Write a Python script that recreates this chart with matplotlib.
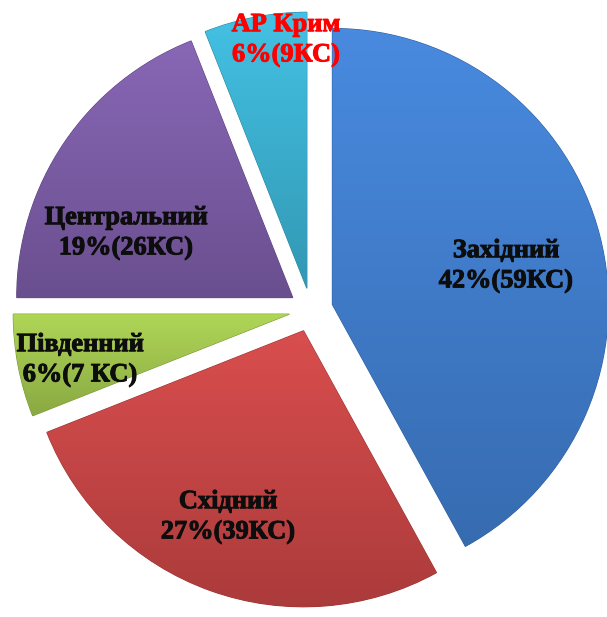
import numpy as np
import matplotlib
matplotlib.use('Agg')
from matplotlib import pyplot as plt
from matplotlib.colors import to_rgb
import matplotlib.patheffects as pe

regions = ['Західний', 'Східний', 'Південний', 'Центральний', 'АР Крим']
shares = [42, 27, 6, 19, 6]
counts = ['59КС', '39КС', '7 КС', '26КС', '9КС']
colors = ['#4180d2', '#cc4646', '#a4c94f', '#7e5eaa', '#3cb5d6']
text_colors = ['#0d0d0d', '#0d0d0d', '#0d0d0d', '#0d0d0d', '#ff0000']

# label centres (pixels, y measured from the top)
label_pos = [(506, 266), (228, 517), (80, 360), (126, 233), (286, 40)]

W, H = 607, 617
fig = plt.figure(figsize=(W / 100, H / 100), dpi=100)
ax = fig.add_axes([0, 0, 1, 1])

R = 276
wedges, _ = ax.pie(shares, center=(311, H - 310), radius=R, startangle=90,
                   counterclock=False, explode=[0.08 * R] * len(shares),
                   colors=colors, frame=True,
                   wedgeprops=dict(linewidth=0.8, edgecolor='none'))
ax.set_xlim(0, W)
ax.set_ylim(0, H)
ax.set_aspect('equal')
ax.axis('off')

# light bevel look: vertical gradient clipped to every wedge
for w, c in zip(wedges, colors):
    base = np.array(to_rgb(c))
    light = np.clip(base * 1.04 + 0.02, 0, 1)
    dark = base * 0.84
    t = np.linspace(0, 1, 256)[:, None]
    grad = light[None, :] * (1 - t) + dark[None, :] * t
    img = np.repeat(grad[:, None, :], 2, axis=1)
    bb = w.get_path().get_extents(w.get_transform())
    bb = bb.transformed(ax.transData.inverted())
    im = ax.imshow(img, extent=[bb.x0, bb.x1, bb.y0, bb.y1], origin='upper',
                   aspect='auto', zorder=w.get_zorder() + 0.1)
    im.set_clip_path(w)
    w.set_edgecolor(tuple(base * 0.75))

ax.set_xlim(0, W)
ax.set_ylim(0, H)

for name, cnt, share, (x, y), tc in zip(regions, counts, shares, label_pos, text_colors):
    ax.text(x, H - y, '%s\n%d%%(%s)' % (name, share, cnt), ha='center', va='center',
            fontsize=19, fontweight='bold', family='Liberation Serif',
            color=tc, linespacing=1.4, zorder=10,
            path_effects=[pe.withStroke(linewidth=0.7, foreground=tc)])

fig.savefig('out.png', dpi=100)
